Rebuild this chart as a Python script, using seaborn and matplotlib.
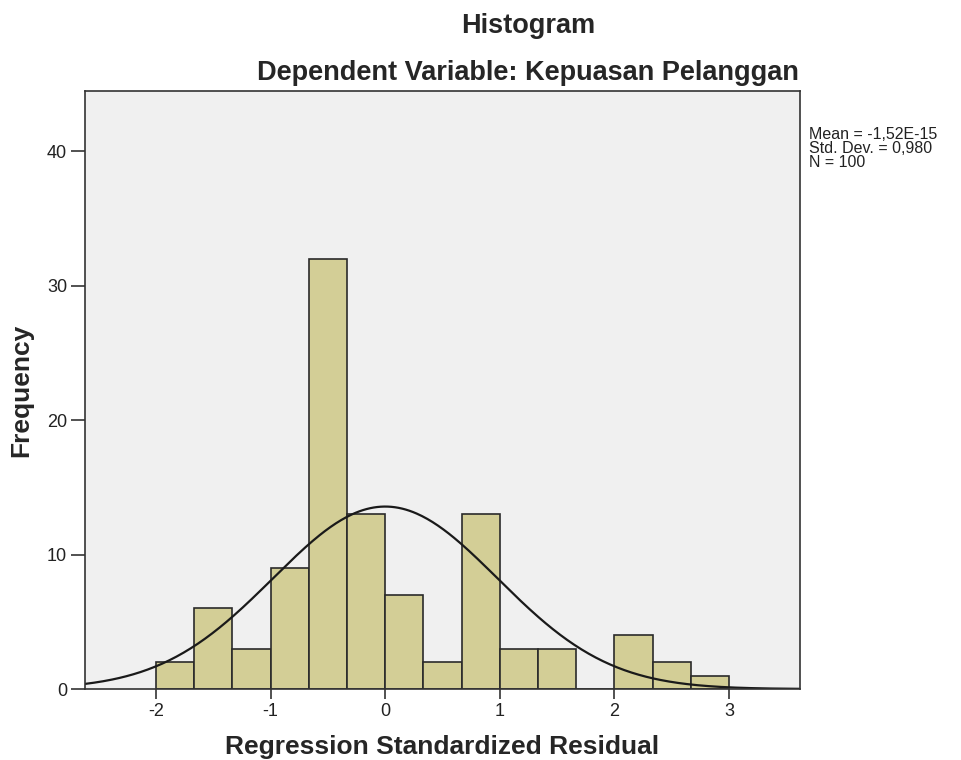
import matplotlib
matplotlib.use("Agg")
import matplotlib.pyplot as plt
import numpy as np
import seaborn as sns

# bin left edges (width 1/3) and counts
bin_starts = [-2.0, -5 / 3, -4 / 3, -1.0, -2 / 3, -1 / 3, 0.0, 1 / 3, 2 / 3, 1.0, 4 / 3, 5 / 3, 2.0, 7 / 3, 8 / 3]
counts = [2, 6, 3, 9, 32, 13, 7, 2, 13, 3, 3, 0, 4, 2, 1]
bin_width = 1 / 3

mean = -1.52e-15
std_dev = 0.980
n_obs = 100
stats_lines = ["Mean = -1,52E-15", "Std. Dev. = 0,980", f"N = {n_obs}"]

x_ticks = [-2, -1, 0, 1, 2, 3]
y_ticks = [0, 10, 20, 30, 40]

sns.set_style("ticks")
plt.rcParams["font.family"] = ["Liberation Sans", "DejaVu Sans"]

fig = plt.figure(figsize=(9.62, 7.6), dpi=100)
ax = fig.add_axes([0.0884, 0.0934, 0.7432, 0.7866])
ax.set_facecolor("#f0f0f0")

edges = bin_starts + [bin_starts[-1] + bin_width]
centers = [b + bin_width / 2 for b in bin_starts]
sns.histplot(x=centers, weights=counts, bins=edges, ax=ax, color="#d3ce96",
             edgecolor="#2a2a2a", linewidth=1.2, alpha=1.0)

x_min, x_max = -2.62, 3.62
xs = np.linspace(x_min, x_max, 400)
ys = n_obs * bin_width / (std_dev * np.sqrt(2 * np.pi)) * np.exp(-0.5 * ((xs - mean) / std_dev) ** 2)
sns.lineplot(x=xs, y=ys, ax=ax, color="#1a1a1a", linewidth=1.6)

ax.set_xlim(x_min, x_max)
ax.set_ylim(0, 44.46)
ax.set_xticks(x_ticks)
ax.set_xticklabels([str(t) for t in x_ticks])
ax.set_yticks(y_ticks)
ax.tick_params(axis="both", width=1.2, color="#333333", labelsize=13, labelcolor="#222222", pad=3)
ax.tick_params(axis="x", length=7)
ax.tick_params(axis="y", length=10)
for spine in ax.spines.values():
    spine.set_visible(True)
    spine.set_color("#333333")
    spine.set_linewidth(1.2)

ax.set_xlabel("Regression Standardized Residual", fontsize=19, fontweight="bold", va="center")
ax.xaxis.set_label_coords(0.5, -0.097)
ax.set_ylabel("Frequency", fontsize=19, fontweight="bold", va="center")
ax.yaxis.set_label_coords(-0.0895, 0.5)

fig.text(0.549, 0.966, "Histogram", ha="center", va="center", fontsize=19.5, fontweight="bold")
fig.text(0.549, 0.904, "Dependent Variable: Kepuasan Pelanggan", ha="center", va="center",
         fontsize=19.5, fontweight="bold")

# stats block, one line at a time so the spacing is tight like SPSS
for i, line in enumerate(stats_lines):
    fig.text(0.841, 0.8168 - i * 0.0184, line, ha="left", va="baseline",
             fontsize=11.5, color="#222222")

fig.savefig("out.png", dpi=100, facecolor="white")
